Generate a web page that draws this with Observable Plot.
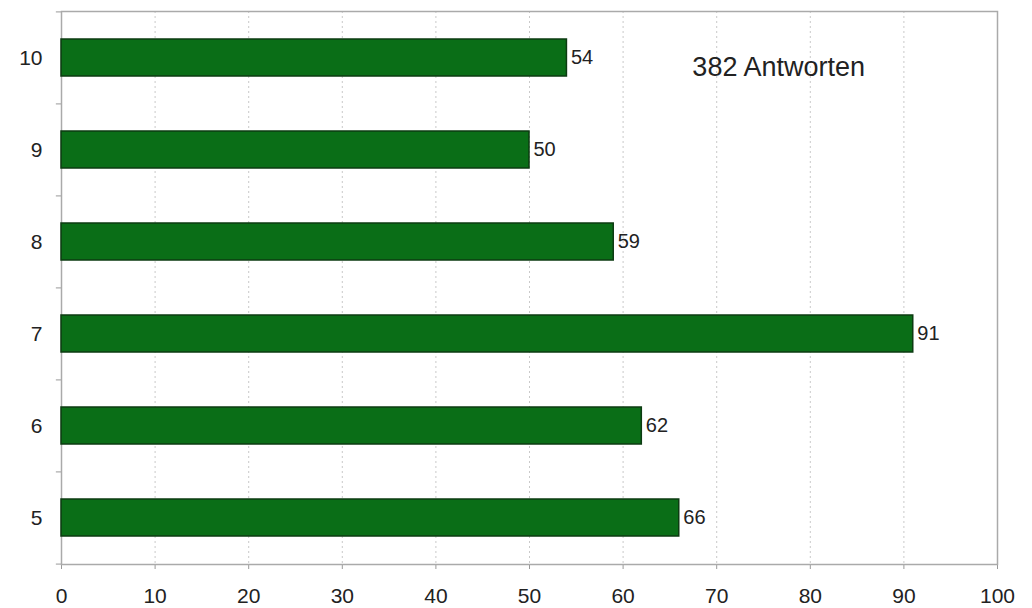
<!DOCTYPE html>
<html>
<head>
<meta charset="utf-8">
<script src="https://cdn.jsdelivr.net/npm/d3@7"></script>
<script src="https://cdn.jsdelivr.net/npm/@observablehq/plot@0.6"></script>
<style>
  html, body { margin: 0; padding: 0; background: #fff; }
  #chart { width: 1032px; height: 608px; }
</style>
</head>
<body>
<div id="chart"></div>
<script>
const categories = ["10", "9", "8", "7", "6", "5"];
const values = [54, 50, 59, 91, 62, 66];
const xTicks = [0, 10, 20, 30, 40, 50, 60, 70, 80, 90, 100];
const annotation = "382 Antworten";

const data = categories.map((c, i) => ({cat: c, value: values[i]}));

const W = 1032, H = 608;
const mt = 11, mb = 44, ml = 61, mr = 35;
const step = (H - mt - mb) / categories.length;

const chart = Plot.plot({
  width: W,
  height: H,
  marginTop: mt,
  marginBottom: mb,
  marginLeft: ml,
  marginRight: mr,
  style: {fontFamily: "Liberation Sans, Arial, sans-serif", fontSize: "20px", color: "#222", background: "#fff", overflow: "visible"},
  x: {domain: [0, 100], ticks: xTicks, label: null},
  y: {domain: categories, paddingInner: 0.6, paddingOuter: 0.3, label: null},
  marks: [
    Plot.gridX(xTicks, {stroke: "#bbb", strokeOpacity: 0.8, strokeDasharray: "2,3", y1: null, y2: null}),
    Plot.axisX({ticks: xTicks, tickSize: 5, tickPadding: 19, fontSize: 21, stroke: "#999", fill: "#222", label: null}),
    Plot.axisY({tickSize: 0, tickPadding: 19, fontSize: 21, fill: "#222", label: null}),
    Plot.ruleY(categories, {y: d => d, x1: -0.55, x2: 0, dy: -step / 2, stroke: "#999"}),
    Plot.ruleY([categories[categories.length - 1]], {y: d => d, x1: -0.55, x2: 0, dy: step / 2, stroke: "#999"}),
    Plot.frame({stroke: "#aaa", strokeWidth: 1.5}),
    Plot.barX(data, {x: "value", y: "cat", fill: "#0a6e17", stroke: "#0d3b12", strokeWidth: 1.5}),
    Plot.text(data, {x: "value", y: "cat", text: d => String(d.value), textAnchor: "start", dx: 4, fontSize: 20, fill: "#222"}),
    Plot.text([annotation], {x: 67.4, y: () => categories[0], text: d => d, textAnchor: "start", dy: 9, fontSize: 27, fill: "#222"})
  ]
});
document.getElementById("chart").appendChild(chart);
</script>
</body>
</html>
